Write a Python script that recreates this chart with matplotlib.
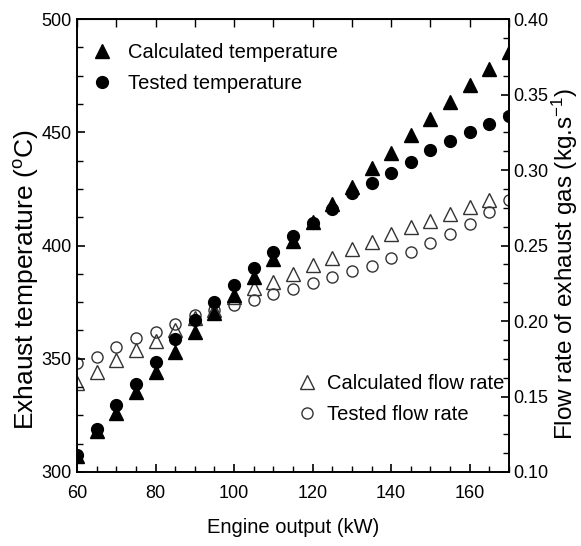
import numpy as np
import matplotlib
matplotlib.use('Agg')
import matplotlib.pyplot as plt
from matplotlib.ticker import MultipleLocator

plt.rcParams['font.family'] = ['Liberation Sans', 'DejaVu Sans']
plt.rcParams['mathtext.fontset'] = 'custom'
plt.rcParams['mathtext.rm'] = 'Liberation Sans'
plt.rcParams['mathtext.it'] = 'Liberation Sans'

# engine output (kW)
power = [60, 65, 70, 75, 80, 85, 90, 95, 100, 105, 110, 115,
         120, 125, 130, 135, 140, 145, 150, 155, 160, 165, 170]

# exhaust temperature (C)
calc_temp = [307, 318, 326, 335.5, 344, 353, 362, 370, 378, 386, 394, 402,
             410.5, 418.5, 426, 434, 441, 449, 456, 463.5, 471, 478, 485.5]
test_temp = [307.5, 319, 329.5, 339, 348.5, 358.5, 367, 375, 382.5, 390, 397, 404,
             410, 416, 423, 427.5, 432, 437, 442, 446, 450, 453.5, 457]

# exhaust gas flow rate (kg/s)
calc_flow = [0.159, 0.166, 0.174, 0.181, 0.187, 0.194, 0.202, 0.2075, 0.216, 0.222, 0.226, 0.231,
             0.237, 0.242, 0.2475, 0.252, 0.2575, 0.262, 0.2665, 0.271, 0.2755, 0.280, np.nan]
test_flow = [0.172, 0.176, 0.183, 0.1885, 0.193, 0.198, 0.204, 0.207, 0.2105, 0.214, 0.218, 0.221,
             0.225, 0.229, 0.233, 0.2365, 0.2415, 0.246, 0.2515, 0.2575, 0.2645, 0.272, 0.280]

fig = plt.figure(figsize=(5.81, 5.46), dpi=100)
ax = fig.add_axes([77 / 581, 74 / 546, 432 / 581, 453 / 546])
ax2 = ax.twinx()
ax.set_zorder(ax2.get_zorder() + 1)
ax.patch.set_visible(False)

# open markers (flow rate) on the right axis
ax2.plot(power, calc_flow, ls='none', marker='^', ms=9.5, mfc='none', mec='#333333', mew=1.0,
         label='Calculated flow rate')
ax2.plot(power, test_flow, ls='none', marker='o', ms=8, mfc='none', mec='#333333', mew=1.0,
         label='Tested flow rate')

# filled markers (temperature) on the left axis
ax.plot(power, calc_temp, ls='none', marker='^', ms=10, color='black', label='Calculated temperature')
ax.plot(power, test_temp, ls='none', marker='o', ms=8.5, color='black', label='Tested temperature')

ax.set_xlim(60, 170)
ax.set_ylim(300, 500)
ax2.set_ylim(0.10, 0.40)

ax.xaxis.set_major_locator(MultipleLocator(20))
ax.xaxis.set_minor_locator(MultipleLocator(5))
ax.yaxis.set_major_locator(MultipleLocator(50))
ax.yaxis.set_minor_locator(MultipleLocator(12.5))
ax2.yaxis.set_major_locator(MultipleLocator(0.05))
ax2.yaxis.set_minor_locator(MultipleLocator(0.0125))
ax2.yaxis.set_major_formatter(matplotlib.ticker.FormatStrFormatter('%.2f'))

for a in (ax, ax2):
    for s in a.spines.values():
        s.set_linewidth(1.2)
ax.tick_params(which='major', direction='in', length=6, width=1.2, labelsize=13)
ax.tick_params(which='minor', direction='in', length=4, width=1.0)
ax.tick_params(axis='x', which='major', pad=9)
ax.tick_params(axis='y', which='major', pad=4)
ax2.tick_params(which='major', direction='in', length=6, width=1.2, labelsize=13, pad=3)
ax2.tick_params(which='minor', direction='in', length=4, width=1.0)

top = ax.secondary_xaxis('top')
top.set_xticks(np.arange(60, 171, 10))
top.tick_params(direction='in', length=6, width=1.0, labeltop=False)
top.xaxis.set_minor_locator(matplotlib.ticker.NullLocator())

ax.set_xlabel('Engine output (kW)', fontsize=14.5)
ax.xaxis.set_label_coords(0.5, -0.101)
fig.text(27 / 581, 1 - 280 / 546, r'Exhaust temperature ($^{\mathrm{o}}$C)', rotation=90,
         ha='center', va='center', fontsize=19)
fig.text(565 / 581, 1 - 264 / 546, r'Flow rate of exhaust gas (kg.s$^{\mathrm{-1}}$)', rotation=90,
         ha='center', va='center', fontsize=17.5)

ax.legend(loc='upper left', bbox_to_anchor=(0.035, 0.947), frameon=False, fontsize=14.5,
          handlelength=1.0, handletextpad=0.8, labelspacing=0.6, borderpad=0, borderaxespad=0)
ax2.legend(loc='upper left', bbox_to_anchor=(0.509, 0.216), frameon=False, fontsize=14.5,
           handlelength=1.0, handletextpad=0.5, labelspacing=0.6, borderpad=0, borderaxespad=0)

fig.savefig('out.png', dpi=100)
